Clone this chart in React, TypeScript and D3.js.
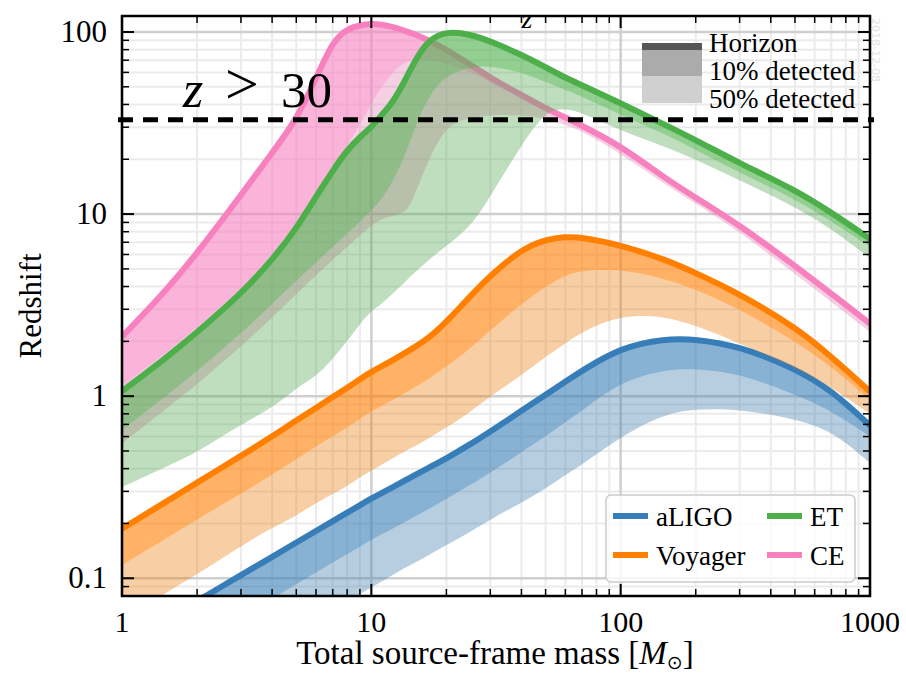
import React from 'react';
import * as d3 from 'd3';

// ---------- data ----------
const MASS = [1, 1.5, 2, 3, 4, 5, 6, 7, 8, 9, 10, 11, 12, 13, 14, 15, 17, 20, 25, 30, 40, 50, 60, 70, 100, 150, 200, 300, 500, 700, 1000];

const ALIGO_H = [0.043, 0.059, 0.075, 0.104, 0.131, 0.157, 0.182, 0.206, 0.229, 0.252, 0.274, 0.294, 0.313, 0.332, 0.351, 0.37, 0.405, 0.455, 0.545, 0.64, 0.83, 1.02, 1.2, 1.38, 1.85, 2.07, 2.06, 1.88, 1.42, 1.08, 0.69];
const ALIGO_10 = [0.025, 0.035, 0.044, 0.061, 0.077, 0.093, 0.107, 0.122, 0.135, 0.149, 0.162, 0.174, 0.185, 0.196, 0.207, 0.218, 0.24, 0.272, 0.325, 0.38, 0.49, 0.6, 0.72, 0.83, 1.2, 1.4, 1.41, 1.33, 1.02, 0.83, 0.6];
const ALIGO_50 = [0.0139, 0.019, 0.024, 0.034, 0.043, 0.051, 0.059, 0.067, 0.074, 0.082, 0.089, 0.096, 0.103, 0.11, 0.116, 0.122, 0.134, 0.152, 0.18, 0.21, 0.26, 0.31, 0.37, 0.42, 0.6, 0.8, 0.85, 0.85, 0.75, 0.65, 0.43];

const VOY_H = [0.187, 0.263, 0.335, 0.47, 0.6, 0.736, 0.86, 0.99, 1.11, 1.24, 1.36, 1.46, 1.56, 1.66, 1.76, 1.87, 2.08, 2.55, 3.55, 4.6, 6.4, 7.25, 7.5, 7.45, 6.75, 5.65, 4.75, 3.65, 2.4, 1.65, 1.06];
const VOY_10 = [0.118, 0.165, 0.21, 0.29, 0.37, 0.45, 0.53, 0.6, 0.67, 0.75, 0.82, 0.88, 0.94, 1.0, 1.06, 1.12, 1.24, 1.45, 1.82, 2.3, 3.2, 4.0, 4.6, 4.9, 5.0, 4.4, 3.85, 3.0, 2.0, 1.45, 0.95];
const VOY_50 = [0.06, 0.083, 0.105, 0.15, 0.19, 0.22, 0.26, 0.29, 0.32, 0.36, 0.39, 0.42, 0.45, 0.48, 0.51, 0.53, 0.59, 0.67, 0.82, 1.0, 1.3, 1.65, 1.95, 2.25, 2.8, 2.75, 2.45, 1.95, 1.45, 1.12, 0.8];

const ET_H = [1.065, 1.62, 2.24, 3.64, 5.6, 8.3, 12.5, 17.3, 22.5, 26.5, 30, 35, 40, 48, 58, 70, 91, 101, 97, 89, 75, 64, 56, 51, 40.6, 31, 25.5, 19.0, 13.6, 10.2, 7.3];
const ET_10 = [0.65, 1.0, 1.37, 2.2, 3.2, 4.3, 5.4, 6.6, 7.8, 9.0, 10.5, 12, 14.5, 18, 23, 30, 45, 58, 64, 65, 60, 53, 48, 44, 35, 27.5, 22.5, 16.8, 12.1, 9.1, 6.6];
const ET_50 = [0.316, 0.41, 0.49, 0.7, 0.86, 1.11, 1.28, 1.6, 2.0, 2.5, 2.95, 3.2, 3.6, 3.97, 4.4, 4.8, 5.6, 6.7, 8.5, 12.5, 24, 37, 38, 36, 28.8, 23.5, 20, 15.3, 11.0, 8.3, 5.73];

const CE_H = [2.12, 3.79, 6.08, 12.7, 21.7, 32.8, 55.7, 89, 104, 109, 111, 110, 107, 104, 100, 97, 90, 80, 66, 56, 45, 38, 34, 30.5, 23.7, 15.8, 12.3, 8.7, 5.2, 3.65, 2.5];
const CE_10 = [1.13, 1.72, 2.37, 3.85, 5.95, 8.8, 13.2, 18.3, 23.5, 31, 40, 50, 58, 65, 69, 71, 70, 67, 60, 53, 43, 36.5, 32.5, 29.5, 23, 15.4, 12.0, 8.5, 5.05, 3.55, 2.45];
const CE_50 = [0.55, 0.85, 1.16, 1.87, 2.7, 3.65, 4.6, 5.6, 6.6, 7.6, 8.7, 9.4, 9.7, 10, 10.5, 13, 20, 31, 34, 35, 35, 33.5, 31, 28.5, 21.5, 14.6, 11.4, 8.0, 4.7, 3.3, 2.25];

const DETECTORS = ['aLIGO', 'Voyager', 'ET', 'CE'];
const COLORS = ['#377eb8', '#ff7f00', '#4daf4a', '#f781bf'];
const DRAW_ORDER = [0, 1, 3, 2]; // CE below ET

const X_TICKS = [1, 10, 100, 1000];
const X_TICK_LABELS = ['1', '10', '100', '1000'];
const Y_TICKS = [0.1, 1, 10, 100];
const Y_TICK_LABELS = ['0.1', '1', '10', '100'];
const DASH_Z = 33;
const BAND_LEGEND = ['Horizon', '10% detected', '50% detected'];

const SERIES = [
  [ALIGO_H, ALIGO_10, ALIGO_50],
  [VOY_H, VOY_10, VOY_50],
  [ET_H, ET_10, ET_50],
  [CE_H, CE_10, CE_50],
];

const FONT = "'Liberation Serif', 'Times New Roman', serif";

export default function App() {
  const W = 906, Hh = 676;
  const L = 122, R = 870, T = 16, B = 596;
  const x = d3.scaleLog().domain([1, 1000]).range([L, R]);
  const y = d3.scaleLog().domain([0.0799, 122.4]).range([B, T]);

  const minorX: number[] = [];
  for (let k = 0; k < 3; k++) for (let j = 2; j <= 9; j++) minorX.push(j * Math.pow(10, k));
  const minorY: number[] = [];
  for (let k = -2; k < 3; k++) for (let j = 2; j <= 9; j++) {
    const v = j * Math.pow(10, k);
    if (v > 0.0805 && v < 122) minorY.push(v);
  }

  const areaGen = (lo: number[], hi: number[]) =>
    d3.area<number>()
      .x((d) => x(d))
      .y0((_, i) => y(lo[i]))
      .y1((_, i) => y(hi[i]))
      .curve(d3.curveBasis)(MASS) || '';
  const lineGen = (v: number[]) =>
    d3.line<number>().x((d) => x(d)).y((_, i) => y(v[i])).curve(d3.curveBasis)(MASS) || '';

  const majLen = 12, minLen = 7;

  return (
    <svg width={W} height={Hh} style={{ position: 'absolute', left: 0, top: 0, display: 'block', background: '#fff' }}
      fontFamily={FONT}>
      <defs>
        <clipPath id="plotclip">
          <rect x={L} y={T} width={R - L} height={B - T} />
        </clipPath>
      </defs>
      <rect x={0} y={0} width={W} height={Hh} fill="#fff" />

      {/* grid */}
      <g>
        {minorX.map((v) => (
          <line key={'gmx' + v} x1={x(v)} x2={x(v)} y1={T} y2={B} stroke="#ebebeb" strokeWidth={2} />
        ))}
        {minorY.map((v) => (
          <line key={'gmy' + v} x1={L} x2={R} y1={y(v)} y2={y(v)} stroke="#ebebeb" strokeWidth={2} />
        ))}
        {X_TICKS.map((v) => (
          <line key={'gx' + v} x1={x(v)} x2={x(v)} y1={T} y2={B} stroke="#cfcfcf" strokeWidth={2.5} />
        ))}
        {Y_TICKS.map((v) => (
          <line key={'gy' + v} x1={L} x2={R} y1={y(v)} y2={y(v)} stroke="#cfcfcf" strokeWidth={2.5} />
        ))}
      </g>

      {/* bands and horizons */}
      <g clipPath="url(#plotclip)">
        {DRAW_ORDER.map((di) => {
          const [h, p10, p50] = SERIES[di];
          const c = COLORS[di];
          const light = d3.interpolateRgb(c, '#808080')(0.15);
          return (
            <g key={DETECTORS[di]}>
              <path d={areaGen(p50, p10)} fill={light} fillOpacity={0.38} stroke="none" />
              <path d={areaGen(p10, h)} fill={c} fillOpacity={0.6} stroke="none" />
              <path d={lineGen(h)} fill="none" stroke={c} strokeWidth={6} strokeLinejoin="round" />
            </g>
          );
        })}
      </g>

      {/* z > 30 dashed line */}
      <line x1={118} x2={874} y1={y(DASH_Z)} y2={y(DASH_Z)} stroke="#000" strokeWidth={5} strokeDasharray="15 10" />

      {/* top "z" label */}
      <text x={527} y={28} fontSize={28} fontStyle="italic" textAnchor="middle" fill="#000">z</text>

      {/* frame */}
      <rect x={L} y={T} width={R - L} height={B - T} fill="none" stroke="#000" strokeWidth={2.5} />

      {/* ticks */}
      <g stroke="#000">
        {X_TICKS.map((v) => (
          <g key={'tx' + v}>
            <line x1={x(v)} x2={x(v)} y1={B} y2={B - majLen} strokeWidth={2} />
            <line x1={x(v)} x2={x(v)} y1={T} y2={T + majLen} strokeWidth={2} />
          </g>
        ))}
        {minorX.map((v) => (
          <g key={'tmx' + v}>
            <line x1={x(v)} x2={x(v)} y1={B} y2={B - minLen} strokeWidth={1.5} />
            <line x1={x(v)} x2={x(v)} y1={T} y2={T + minLen} strokeWidth={1.5} />
          </g>
        ))}
        {Y_TICKS.map((v) => (
          <g key={'ty' + v}>
            <line x1={L} x2={L + majLen} y1={y(v)} y2={y(v)} strokeWidth={2} />
            <line x1={R} x2={R - majLen} y1={y(v)} y2={y(v)} strokeWidth={2} />
          </g>
        ))}
        {minorY.map((v) => (
          <g key={'tmy' + v}>
            <line x1={L} x2={L + minLen} y1={y(v)} y2={y(v)} strokeWidth={1.5} />
            <line x1={R} x2={R - minLen} y1={y(v)} y2={y(v)} strokeWidth={1.5} />
          </g>
        ))}
      </g>

      {/* tick labels */}
      {X_TICKS.map((v, i) => (
        <text key={'lx' + v} x={x(v)} y={632} fontSize={30} textAnchor="middle" fill="#000">{X_TICK_LABELS[i]}</text>
      ))}
      {Y_TICKS.map((v, i) => (
        <text key={'ly' + v} x={107} y={y(v) + 10} fontSize={31} textAnchor="end" fill="#000">{Y_TICK_LABELS[i]}</text>
      ))}

      {/* axis labels */}
      <text x={495} y={664} fontSize={33} textAnchor="middle" fill="#000">
        <tspan>Total source-frame mass [</tspan>
        <tspan fontStyle="italic">M</tspan>
        <tspan fontSize={19} dy={5} fontFamily="'DejaVu Sans', sans-serif">⊙</tspan>
        <tspan dy={-5}>]</tspan>
      </text>
      <text transform={`translate(41,306) rotate(-90)`} fontSize={31} textAnchor="middle" fill="#000">Redshift</text>

      {/* z > 30 annotation */}
      <text x={183} y={107} fontSize={52} fontStyle="italic" fill="#000">z</text>
      <text x={225} y={104} fontSize={60} fill="#000">&gt;</text>
      <text x={281} y={107} fontSize={51} fill="#000">30</text>

      {/* band legend */}
      <rect x={642} y={43} width={60} height={7} fill="#555" />
      <rect x={642} y={50} width={60} height={26} fill="#ababab" />
      <rect x={642} y={76} width={60} height={27} fill="#d0d0d0" />
      {BAND_LEGEND.map((t, i) => (
        <text key={t} x={709} y={52 + i * 28} fontSize={27} fill="#000">{t}</text>
      ))}

      {/* detector legend */}
      <rect x={606} y={495} width={249} height={87} rx={5} ry={5} fill="#fff" fillOpacity={0.8} stroke="#cccccc" strokeWidth={1.5} />
      {DETECTORS.map((d, i) => {
        const col = Math.floor(i / 2);
        const row = i % 2;
        const lx = col === 0 ? 613 : 767;
        const ly = row === 0 ? 516 : 555;
        return (
          <g key={'leg' + d}>
            <line x1={lx} x2={lx + 35} y1={ly} y2={ly} stroke={COLORS[i]} strokeWidth={6} />
            <text x={lx + 43} y={ly + 10} fontSize={27} fill="#000">{d}</text>
          </g>
        );
      })}

      {/* faint date stamp */}
      <text transform="translate(872,18) rotate(90)" fontSize={11} fill="#e2e2e2" fontFamily="'DejaVu Sans', sans-serif">2018-12-08</text>
    </svg>
  );
}
